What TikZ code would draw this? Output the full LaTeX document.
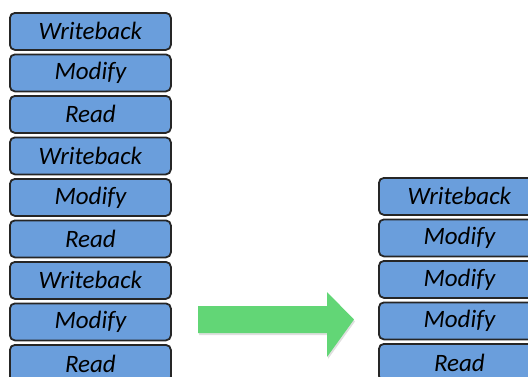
\documentclass[tikz,border=0pt]{standalone}
\usepackage{fontspec}
\setmainfont{Carlito}
\usetikzlibrary{shadows}
\definecolor{stagefill}{RGB}{106,158,220}
\definecolor{arrowgreen}{RGB}{98,214,118}
\tikzset{
  stage/.style={draw=black!85, line width=1.8pt, fill=stagefill, rounded corners=5pt,
    minimum width=161pt, minimum height=37pt, inner sep=0pt,
    font=\fontsize{25}{28}\selectfont\itshape, anchor=north west},
}
\begin{document}
\begin{tikzpicture}[x=1pt,y=-1pt]
\useasboundingbox (0,0) rectangle (528,376);
\clip (0,0) rectangle (528,376);
% pipeline before merging: three read-modify-writeback triples
\foreach \t [count=\i from 0] in {Writeback,Modify,Read,Writeback,Modify,Read,Writeback,Modify,Read}{
  \node[stage] (l\i) at (9,{12+41.5*\i}) {\t};
}
% merged pipeline
\foreach \t [count=\i from 0] in {Writeback,Modify,Modify,Modify,Read}{
  \node[stage] (r\i) at (378,{177+41.5*\i}) {\t};
}
% transformation arrow
\fill[arrowgreen, drop shadow={opacity=0.25, shadow xshift=1pt, shadow yshift=-2pt}]
  (198,306) -- (327,306) -- (327,292) -- (354,319.5) -- (327,357) -- (327,333) -- (198,333) -- cycle;
\end{tikzpicture}
\end{document}
